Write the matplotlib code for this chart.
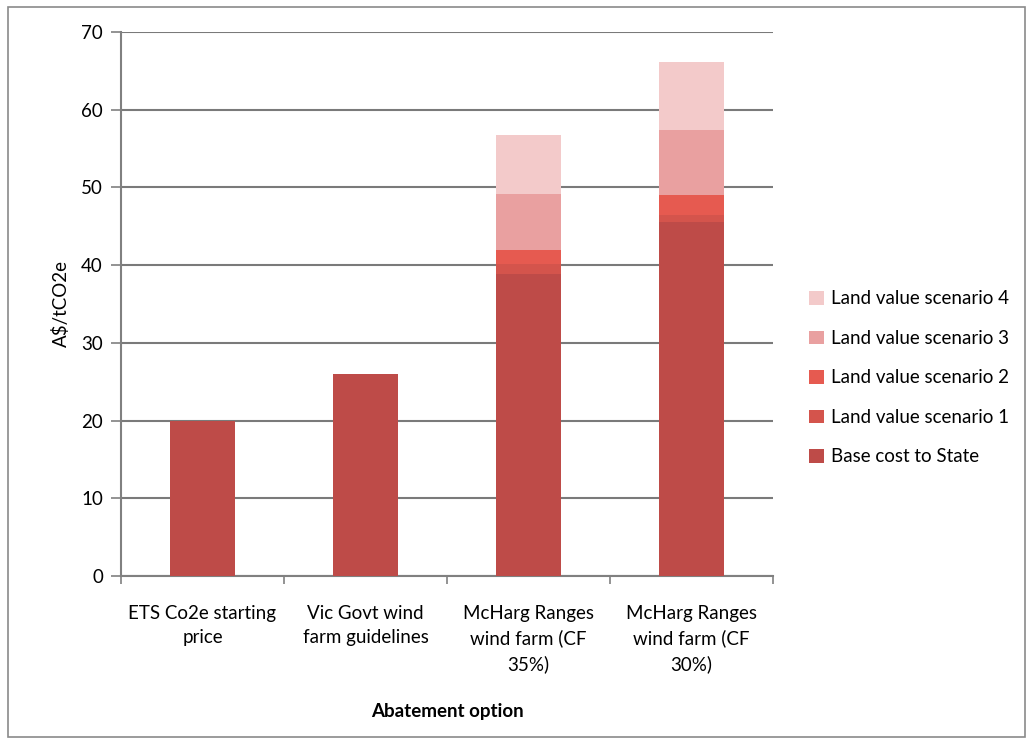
import numpy as np
import matplotlib.pyplot as plt
from matplotlib.patches import Rectangle

plt.rcParams['font.family'] = ['Lato', 'DejaVu Sans']

# data
categories = ['ETS Co2e starting\nprice', 'Vic Govt wind\nfarm guidelines',
              'McHarg Ranges\nwind farm (CF\n35%)', 'McHarg Ranges\nwind farm (CF\n30%)']
base_cost = [20.0, 26.0, 38.9, 45.6]
land_s1 = [0.0, 0.0, 1.2, 0.9]
land_s2 = [0.0, 0.0, 1.8, 2.5]
land_s3 = [0.0, 0.0, 7.3, 8.4]
land_s4 = [0.0, 0.0, 7.5, 8.7]

series = [
    ('Base cost to State', base_cost, '#BE4B48'),
    ('Land value scenario 1', land_s1, '#D4544C'),
    ('Land value scenario 2', land_s2, '#E65A50'),
    ('Land value scenario 3', land_s3, '#E9A0A0'),
    ('Land value scenario 4', land_s4, '#F3CACA'),
]

fig = plt.figure(figsize=(10.27, 7.47), dpi=100)
ax = fig.add_axes([0.1178, 0.2289, 0.6349, 0.7283])

# outer chart border
fig.patches.append(Rectangle((8 / 1027, 10 / 747), 1017 / 1027, 730 / 747,
                             transform=fig.transFigure, fill=False,
                             edgecolor='#8a8a8a', linewidth=1.2))

x = np.arange(len(categories))
bottom = np.zeros(len(categories))
handles = []
for name, vals, col in series:
    vals = np.array(vals)
    b = ax.bar(x, vals, width=0.4, bottom=bottom, color=col,
               edgecolor='none', label=name, zorder=3)
    handles.append(b)
    bottom += vals

fs = 13.5
ax.set_xlim(-0.5, 3.5)
ax.set_ylim(0, 70)
ax.set_yticks(range(0, 71, 10))
ax.tick_params(axis='y', labelsize=fs, length=7, color='#808080', width=1.2, pad=6)
ax.set_xticks(x)
ax.set_xticklabels(categories, fontsize=fs, linespacing=1.5)
ax.set_xticks(np.arange(-0.5, 4.0, 1.0), minor=True)
ax.tick_params(axis='x', which='major', length=0, pad=21)
ax.tick_params(axis='x', which='minor', length=6, color='#808080', width=1.2)

ax.grid(axis='y', color='#7a7a7a', linewidth=1.5, zorder=0)
for s in ['top', 'right']:
    ax.spines[s].set_visible(False)
for s in ['left', 'bottom']:
    ax.spines[s].set_color('#808080')
    ax.spines[s].set_linewidth(1.5)

ax.set_ylabel('A$/tCO2e', fontsize=fs, labelpad=8)
ax.set_xlabel('Abatement option', fontsize=fs, fontweight='bold', labelpad=22)

leg = ax.legend(handles=handles[::-1], loc='center left',
                bbox_to_anchor=(1.03, 0.364), frameon=False, fontsize=fs,
                handlelength=0.75, handleheight=0.75, handletextpad=0.4,
                labelspacing=1.2)

fig.savefig('out.png', dpi=100)
